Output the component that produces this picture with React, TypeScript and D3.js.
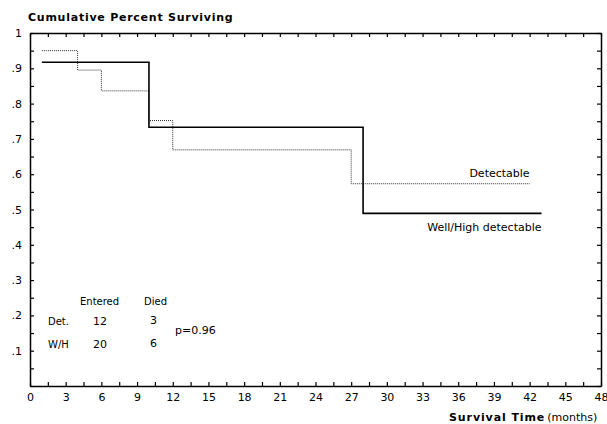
import React, { useEffect, useRef } from 'react';
import * as d3 from 'd3';

// Kaplan-Meier step values
const detTimes = [1, 4, 6, 10, 12, 27, 42];
const detSurv = [0.95, 0.895, 0.836, 0.752, 0.669, 0.573, 0.573];
const whTimes = [1, 10, 28, 43];
const whSurv = [0.917, 0.733, 0.489, 0.489];

const xTicks = d3.range(0, 48.01, 1.5);
const yTicks = d3.range(0, 1.001, 0.05);

const tableHeader = ['Entered', 'Died'];
const tableRows = [
  { label: 'Det.', entered: '12', died: '3' },
  { label: 'W/H', entered: '20', died: '6' },
];

const W = 607;
const H = 424;
const FONT = '"DejaVu Sans", Verdana, sans-serif';

export default function App() {
  const svgRef = useRef<SVGSVGElement>(null);

  useEffect(() => {
    if (!svgRef.current) return;
    const svg = d3.select(svgRef.current);
    svg.selectAll('*').remove();

    const x = d3.scaleLinear().domain([0, 48]).range([30, 601]);
    const y = d3.scaleLinear().domain([0, 1]).range([386, 33]);

    const isMajorX = (d: number) => Math.abs(d / 3 - Math.round(d / 3)) < 1e-6;
    const isMajorY = (d: number) => Math.abs(d * 10 - Math.round(d * 10)) < 1e-6;

    // bottom axis
    const bottom = svg.append('g').attr('transform', `translate(0,${y(0)})`)
      .call(d3.axisBottom(x).tickValues(xTicks).tickSizeInner(-4).tickSizeOuter(0).tickPadding(7)
        .tickFormat(d => (isMajorX(+d) ? String(Math.round(+d)) : '')));
    // top axis
    const top = svg.append('g').attr('transform', `translate(0,${y(1)})`)
      .call(d3.axisTop(x).tickValues(xTicks).tickSizeInner(-4).tickSizeOuter(0).tickFormat(() => ''));
    // left axis
    const left = svg.append('g').attr('transform', `translate(${x(0)},0)`)
      .call(d3.axisLeft(y).tickValues(yTicks).tickSizeInner(-4).tickSizeOuter(0).tickPadding(8)
        .tickFormat(d => {
          const v = +d;
          if (!isMajorY(v) || v < 0.05) return '';
          if (v > 0.99) return '1';
          return '.' + Math.round(v * 10);
        }));
    // right axis
    const right = svg.append('g').attr('transform', `translate(${x(48)},0)`)
      .call(d3.axisRight(y).tickValues(yTicks).tickSizeInner(-4).tickSizeOuter(0).tickFormat(() => ''));

    [bottom, top, left, right].forEach(g => {
      g.select('.domain').attr('stroke', '#000').attr('stroke-width', 1.5);
      g.selectAll('.tick line').attr('stroke', '#000').attr('stroke-width', 1.2);
      g.selectAll('.tick text').attr('fill', '#000').attr('font-size', 11).attr('font-family', FONT);
    });

    const line = d3.line<[number, number]>()
      .x(d => x(d[0]))
      .y(d => y(d[1]))
      .curve(d3.curveStepAfter);

    svg.append('path')
      .datum(detTimes.map((t, i) => [t, detSurv[i]] as [number, number]))
      .attr('d', line)
      .attr('fill', 'none')
      .attr('stroke', '#333')
      .attr('stroke-width', 1)
      .attr('stroke-dasharray', '1,1');

    svg.append('path')
      .datum(whTimes.map((t, i) => [t, whSurv[i]] as [number, number]))
      .attr('d', line)
      .attr('fill', 'none')
      .attr('stroke', '#000')
      .attr('stroke-width', 1.6);

    // curve labels
    svg.append('text')
      .attr('x', x(detTimes[detTimes.length - 1]))
      .attr('y', y(detSurv[detSurv.length - 1]) - 7)
      .attr('text-anchor', 'end')
      .attr('font-size', 11)
      .attr('font-family', FONT)
      .text('Detectable');
    svg.append('text')
      .attr('x', x(whTimes[whTimes.length - 1]))
      .attr('y', y(whSurv[whSurv.length - 1]) + 18)
      .attr('text-anchor', 'end')
      .attr('font-size', 11)
      .attr('font-family', FONT)
      .text('Well/High detectable');

    // title
    svg.append('text')
      .attr('x', 28)
      .attr('y', 21)
      .attr('font-size', 11)
      .attr('font-weight', 'bold')
      .attr('letter-spacing', 0.75)
      .attr('font-family', FONT)
      .text('Cumulative Percent Surviving');

    // x-axis title
    const xt = svg.append('text')
      .attr('x', 449)
      .attr('y', 421)
      .attr('font-size', 11)
      .attr('font-family', FONT);
    xt.append('tspan').attr('font-weight', 'bold').attr('letter-spacing', 0.9).text('Survival Time');
    xt.append('tspan').attr('dx', 2).text('(months)');

    // small table
    const tbl = svg.append('g').attr('font-size', 10).attr('font-family', FONT);
    tbl.append('text').attr('x', 80).attr('y', 305).text(tableHeader[0]);
    tbl.append('text').attr('x', 144).attr('y', 305).text(tableHeader[1]);
    tableRows.forEach((r, i) => {
      const yy = 325 + i * 23;
      tbl.append('text').attr('x', 48).attr('y', yy).text(r.label);
      tbl.append('text').attr('x', 93).attr('y', yy).attr('font-size', 11).text(r.entered);
      tbl.append('text').attr('x', 150).attr('y', yy - 1).attr('font-size', 11).text(r.died);
    });
    tbl.append('text').attr('x', 175).attr('y', 334).attr('font-size', 11).text('p=0.96');
  }, []);

  return (
    <svg
      ref={svgRef}
      width={W}
      height={H}
      style={{ position: 'absolute', left: 0, top: 0, background: '#fff' }}
    />
  );
}
